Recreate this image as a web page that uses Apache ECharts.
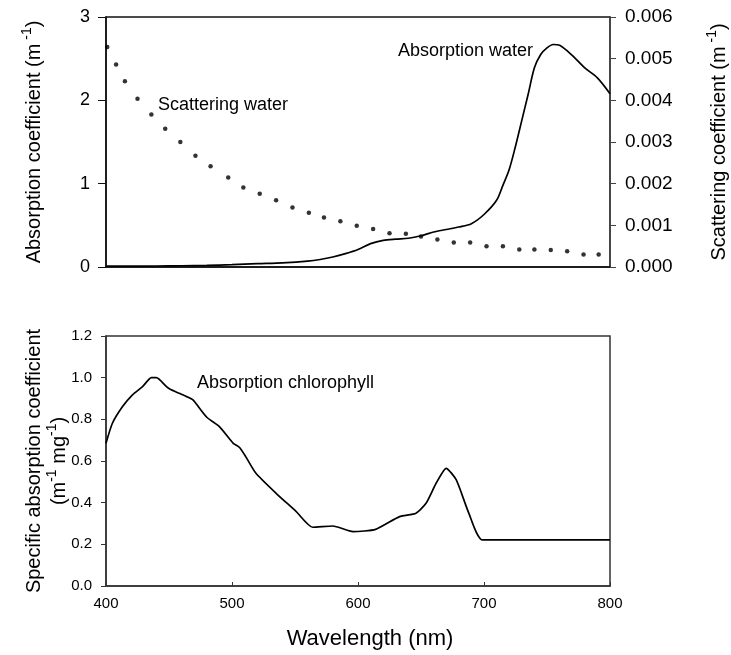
<!DOCTYPE html>
<html>
<head>
<meta charset="utf-8">
<script src="https://cdn.jsdelivr.net/npm/echarts@6/dist/echarts.min.js"></script>
<style>
  html, body { margin: 0; padding: 0; background: #fff; }
  #main { width: 731px; height: 655px; }
</style>
</head>
<body>
<div id="main"></div>
<script>
// pure water absorption (m-1), solid line, left axis of top panel
var absWl = [400, 420, 440, 460, 480, 500, 520, 540, 560, 570, 580, 590, 600, 610, 620, 630, 640, 650, 660, 670, 680, 690, 700, 710, 715, 720, 725, 730, 735, 740, 745, 750, 755, 760, 770, 780, 790, 800];
var absVal = [0.01, 0.01, 0.012, 0.015, 0.02, 0.028, 0.04, 0.05, 0.07, 0.09, 0.12, 0.16, 0.21, 0.28, 0.32, 0.335, 0.345, 0.375, 0.42, 0.45, 0.48, 0.52, 0.63, 0.80, 0.98, 1.17, 1.45, 1.76, 2.07, 2.39, 2.55, 2.63, 2.67, 2.66, 2.54, 2.39, 2.27, 2.08];

// pure water scattering (m-1), dots, right axis of top panel
var scatWl = [401, 408, 415, 425, 436, 447, 459, 471, 483, 497, 509, 522, 535, 548, 561, 573, 586, 599, 612, 625, 638, 650, 663, 676, 689, 702, 715, 728, 740, 753, 766, 779, 791];
var scatVal = [0.00528, 0.00486, 0.00446, 0.00404, 0.00366, 0.00332, 0.00300, 0.00267, 0.00242, 0.00215, 0.00191, 0.00176, 0.00160, 0.00143, 0.00130, 0.00119, 0.00110, 0.00099, 0.00091, 0.00081, 0.00080, 0.00073, 0.00066, 0.00059, 0.00059, 0.00050, 0.00050, 0.00042, 0.00042, 0.00041, 0.00038, 0.00030, 0.00030];

// chlorophyll specific absorption (m-1 mg-1), bottom panel
var chlWl = [400, 405, 413, 421, 429, 436, 440, 448, 451, 458, 464, 469, 480, 490, 501, 506, 511, 519, 535, 551, 564, 580, 596, 614, 633, 646, 654, 662, 670, 678, 688, 699, 800];
var chlVal = [0.685, 0.78, 0.86, 0.917, 0.957, 1.0, 1.0, 0.957, 0.944, 0.925, 0.909, 0.893, 0.81, 0.765, 0.685, 0.665, 0.62, 0.541, 0.445, 0.357, 0.282, 0.288, 0.261, 0.272, 0.333, 0.349, 0.397, 0.493, 0.565, 0.509, 0.349, 0.221, 0.221];

var font = 'Liberation Sans, Arial, sans-serif';
var ink = '#000';

function pairs(xs, ys) {
  var out = [];
  for (var i = 0; i < xs.length; i++) out.push([xs[i], ys[i]]);
  return out;
}

var nameRich = {
  a: { fontFamily: font, fontSize: 20, color: ink, verticalAlign: 'bottom' },
  s: { fontFamily: font, fontSize: 14, color: ink, verticalAlign: 'bottom', padding: [0, 0, 10, 0] }
};

var chart = echarts.init(document.getElementById('main'));
var option = {
  animation: false,
  backgroundColor: '#fff',
  grid: [
    { left: 106, top: 17, width: 504, height: 250, show: true, borderColor: '#111', borderWidth: 1.5, outerBoundsMode: 'none', containLabel: false },
    { left: 106, top: 336, width: 504, height: 250, show: true, borderColor: '#333', borderWidth: 1.5, outerBoundsMode: 'none', containLabel: false }
  ],
  xAxis: [
    {
      gridIndex: 0, type: 'value', min: 400, max: 800, interval: 100,
      axisLine: { lineStyle: { color: '#111', width: 1.5 } },
      axisTick: { show: false },
      axisLabel: { show: false },
      splitLine: { show: false }
    },
    {
      gridIndex: 1, type: 'value', min: 400, max: 800, interval: 100,
      name: 'Wavelength (nm)', nameLocation: 'middle', nameGap: 42, nameMoveOverlap: false,
      nameTextStyle: { fontFamily: font, fontSize: 22, color: ink, padding: [0, 0, 0, 24] },
      axisLine: { lineStyle: { color: '#333', width: 1.5 } },
      axisTick: { inside: true, length: 4, lineStyle: { color: '#333' } },
      axisLabel: { fontFamily: font, fontSize: 15, color: ink, margin: 10 },
      splitLine: { show: false }
    }
  ],
  yAxis: [
    {
      gridIndex: 0, type: 'value', min: 0, max: 3, interval: 1, position: 'left',
      name: '{a|Absorption coefficient (m}{s| -1}{a|)}', nameLocation: 'middle', nameRotate: 90, nameGap: 62, nameMoveOverlap: false,
      nameTextStyle: { rich: nameRich },
      axisLine: { show: true, lineStyle: { color: '#111', width: 1.5 } },
      axisTick: { show: true, length: 8, lineStyle: { color: '#111' } },
      axisLabel: { fontFamily: font, fontSize: 18, color: ink, margin: 16 },
      splitLine: { show: false }
    },
    {
      gridIndex: 0, type: 'value', min: 0, max: 0.006, interval: 0.001, position: 'right',
      name: '{a|Scattering coefficient (m}{s| -1}{a|)}', nameLocation: 'middle', nameRotate: 90, nameGap: 95, nameMoveOverlap: false,
      nameTextStyle: { rich: nameRich },
      axisLine: { show: true, lineStyle: { color: '#444', width: 1.5 } },
      axisTick: { show: true, length: 6, lineStyle: { color: '#444' } },
      axisLabel: {
        fontFamily: font, fontSize: 19, color: ink, margin: 15,
        formatter: function (v) { return v.toFixed(3); }
      },
      splitLine: { show: false }
    },
    {
      gridIndex: 1, type: 'value', min: 0, max: 1.2, interval: 0.2, position: 'left',
      name: '{a|Specific absorption coefficient}\n{a|(m}{s|-1}{a| mg}{s|-1}{a|)}', nameLocation: 'middle', nameRotate: 90, nameGap: 37, nameMoveOverlap: false,
      nameTextStyle: { rich: nameRich, lineHeight: 25 },
      axisLine: { show: true, lineStyle: { color: '#333', width: 1.5 } },
      axisTick: { show: true, length: 5, lineStyle: { color: '#333' } },
      axisLabel: {
        fontFamily: font, fontSize: 15, color: ink, margin: 14,
        formatter: function (v) { return v.toFixed(1); }
      },
      splitLine: { show: false }
    }
  ],
  graphic: [
    { type: 'text', left: 398, top: 42, style: { text: 'Absorption water', font: '18px ' + font, fill: ink } },
    { type: 'text', left: 158, top: 96, style: { text: 'Scattering water', font: '18px ' + font, fill: ink } },
    { type: 'text', left: 197, top: 374, style: { text: 'Absorption chlorophyll', font: '18px ' + font, fill: ink } }
  ],
  series: [
    {
      name: 'Absorption water', type: 'line', xAxisIndex: 0, yAxisIndex: 0,
      data: pairs(absWl, absVal), smooth: 0.3, showSymbol: false,
      lineStyle: { color: '#000', width: 1.7 }
    },
    {
      name: 'Scattering water', type: 'scatter', xAxisIndex: 0, yAxisIndex: 1,
      data: pairs(scatWl, scatVal), symbol: 'circle', symbolSize: 4.5,
      itemStyle: { color: '#000' }
    },
    {
      name: 'Absorption chlorophyll', type: 'line', xAxisIndex: 1, yAxisIndex: 2,
      data: pairs(chlWl, chlVal), smooth: 0.2, showSymbol: false,
      lineStyle: { color: '#000', width: 1.7 }
    }
  ]
};
chart.setOption(option);
</script>
</body>
</html>
